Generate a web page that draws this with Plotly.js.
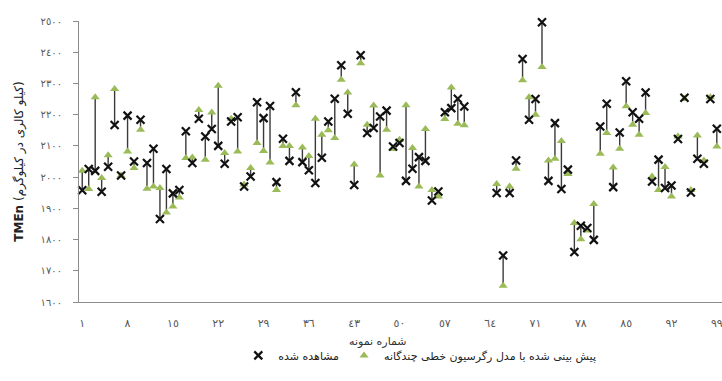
<!DOCTYPE html>
<html>
<head>
<meta charset="utf-8">
<script src="https://cdn.plot.ly/plotly-3.0.1.min.js"></script>
<style>html,body{margin:0;padding:0;background:#fff;}#chart{width:722px;height:381px;}</style>
</head>
<body>
<div id="chart"></div>
<script>
var samples = [1,2,3,4,5,6,7,8,9,10,11,12,13,14,15,16,17,18,19,20,21,22,23,24,25,26,27,28,29,30,31,32,33,34,35,36,37,38,39,40,41,42,43,44,45,46,47,48,49,50,51,52,53,54,55,56,57,58,59,60,61,62,63,64,65,66,67,68,69,70,71,72,73,74,75,76,77,78,79,80,81,82,83,84,85,86,87,88,89,90,91,92,93,94,95,96,97,98,99,100];

var observed = [1958,2026,2020,1953,2033,2167,2005,2197,2050,2184,
  2045,2091,1866,2026,1948,1959,2147,2045,2187,2130,
  2154,2100,2043,2178,2192,1970,2002,2240,2189,2228,
  1984,2123,2052,2272,2048,2022,1981,2062,2178,2251,
  2358,2203,1975,2390,2141,2157,2194,2213,2098,2109,
  1988,2027,2064,2052,1925,1954,2208,2221,2251,2226,
  null,null,null,null,1949,1749,1949,2053,2378,2184,
  2250,2496,1988,2173,1962,2024,1760,1844,1837,1799,
  2162,2235,1968,2143,2307,2208,2187,2271,1986,2056,
  1965,1973,2122,2254,1951,2059,2043,2250,2155,2127];

var predicted = [2020,1962,2256,1997,2070,2282,2005,2082,2029,2152,
  1963,1970,1965,1887,1906,1935,2061,2063,2215,2056,
  2207,2293,2077,2187,2082,1976,2029,2109,2084,2047,
  1959,2100,2100,2230,2095,2068,2187,2136,2150,2125,
  2312,2271,2040,2365,2168,2229,2005,2152,2090,2120,
  2230,2093,1970,2154,1959,1938,2186,2287,2171,2166,
  null,null,null,null,1978,1652,1970,2027,2310,2256,
  2200,2353,2053,2059,2116,2010,1853,1801,1829,1914,
  2075,2141,2031,2091,2227,2168,2136,2205,2002,1959,
  2032,1938,2130,2250,1959,2133,2053,2256,2098,2094];

var xTickVals = [1,8,15,22,29,36,43,50,57,64,71,78,85,92,99];
var xTickText = ['١','٨','١٥','٢٢','٢٩','٣٦','٤٣','٥٠','٥٧','٦٤','٧١','٧٨','٨٥','٩٢','٩٩'];
var yTickVals = [1600,1700,1800,1900,2000,2100,2200,2300,2400,2500];
var yTickText = ['١٦٠٠','١٧٠٠','١٨٠٠','١٩٠٠','٢٠٠٠','٢١٠٠','٢٢٠٠','٢٣٠٠','٢٤٠٠','٢٥٠٠'];

var nameObserved = 'مشاهده شده';
var namePredicted = 'پیش بینی شده با مدل رگرسیون خطی چندگانه';

// connector (high-low) lines built from the data
var lx = [], ly = [];
for (var i = 0; i < samples.length; i++) {
  if (observed[i] === null || predicted[i] === null) continue;
  lx.push(samples[i], samples[i], null);
  ly.push(observed[i], predicted[i], null);
}

var FONT = 'DejaVu Sans, sans-serif';

var traces = [
  {x: lx, y: ly, mode: 'lines', type: 'scatter', showlegend: false, hoverinfo: 'skip',
   line: {color: '#3a3a3a', width: 1.4}},
  {x: samples, y: predicted, mode: 'markers', type: 'scatter', name: namePredicted,
   legendrank: 2, cliponaxis: false,
   marker: {symbol: 'triangle-up', size: 8, color: '#9BBB59', line: {width: 0}}},
  {x: samples, y: observed, mode: 'markers', type: 'scatter', name: nameObserved,
   legendrank: 1, cliponaxis: false,
   marker: {symbol: 'x-thin', size: 8, color: '#000', line: {color: '#111', width: 2.2}}}
];

var layout = {
  width: 722, height: 381,
  margin: {l: 79, r: 0, t: 21, b: 79},
  paper_bgcolor: '#fff', plot_bgcolor: '#fff',
  font: {family: FONT, size: 11, color: '#404040'},
  showlegend: true,
  legend: {orientation: 'h', x: 0.53, xanchor: 'center', y: -0.19, yanchor: 'middle',
           font: {family: FONT, size: 11, color: '#222'}, itemwidth: 30, tracegroupgap: 0},
  xaxis: {range: [0.5, 99.8], tickmode: 'array', tickvals: xTickVals, ticktext: xTickText,
          showgrid: false, zeroline: false, showline: true, linecolor: '#8c8c8c', linewidth: 1,
          ticks: '', ticklabelstandoff: 11, ticklabeloverflow: 'allow',
          tickfont: {family: FONT, size: 11, color: '#595959'}},
  yaxis: {range: [1600, 2500], tickmode: 'array', tickvals: yTickVals, ticktext: yTickText,
          showgrid: false, zeroline: false, showline: true, linecolor: '#8c8c8c', linewidth: 1,
          ticks: 'outside', ticklen: 5, tickcolor: '#8c8c8c', ticklabelstandoff: 9,
          tickfont: {family: FONT, size: 10, color: '#595959'},
          title: {text: '<b>TMEn</b> (کیلو کالری در کیلوگرم)', standoff: 14,
                  font: {family: FONT, size: 12, color: '#222'}}},
  annotations: [
    {text: 'شماره نمونه', xref: 'paper', yref: 'paper', x: 0.465, y: -0.142,
     xanchor: 'center', yanchor: 'middle', showarrow: false,
     font: {family: FONT, size: 11, color: '#333'}}
  ]
};

Plotly.newPlot('chart', traces, layout, {displayModeBar: false, staticPlot: true});
</script>
</body>
</html>
